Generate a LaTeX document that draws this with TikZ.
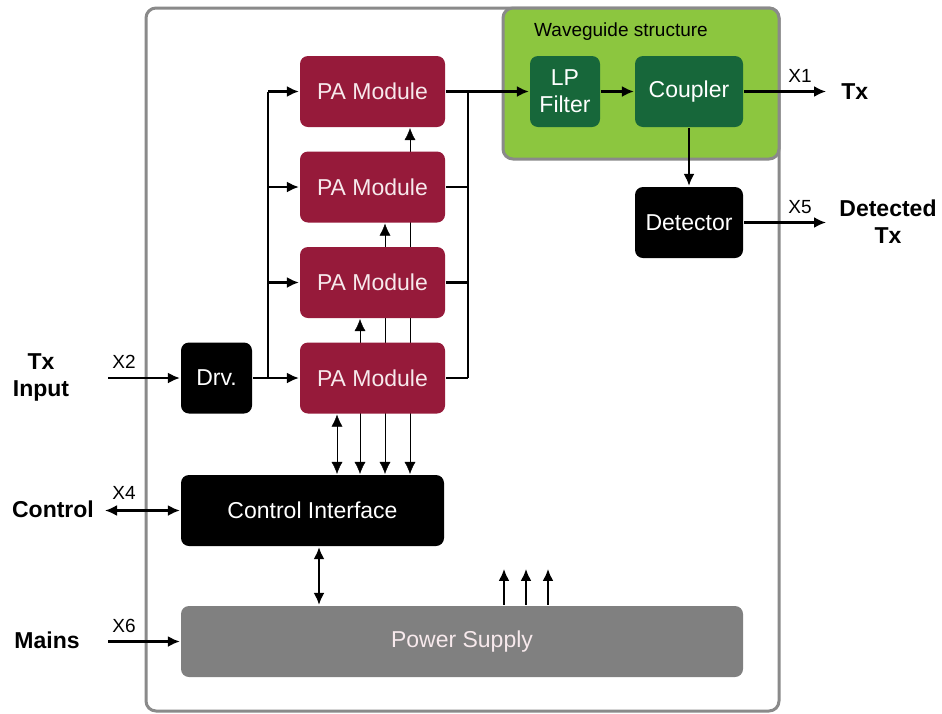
\documentclass[tikz,border=0pt]{standalone}
\usepackage{fontspec}
\setmainfont{Liberation Sans}
\usetikzlibrary{arrows.meta, backgrounds}

\definecolor{pared}{HTML}{961A3A}
\definecolor{patext}{HTML}{F7E9EC}
\definecolor{wglight}{HTML}{8CC63F}
\definecolor{wgdark}{HTML}{17673A}
\definecolor{framegray}{HTML}{8A8A8A}
\definecolor{psgray}{HTML}{808080}

\begin{document}
\begin{tikzpicture}[x=1pt, y=-1pt, line width=2.2pt,
      >={Latex[length=12pt,width=11pt]},
      box/.style={rectangle, rounded corners=8pt, minimum height=71pt, inner sep=0pt, font=\fontsize{23}{27}\selectfont},
      pamod/.style={box, fill=pared, text=patext, minimum width=145pt},
      wgblock/.style={box, fill=wgdark, text=white, align=center},
      blackbox/.style={box, fill=black, text=white},
      xlabel/.style={font=\fontsize{19}{23}\selectfont},
      iolabel/.style={font=\fontsize{23}{27}\selectfont\bfseries, align=center}]

      % Frame and waveguide area
      \draw[framegray, line width=3pt, rounded corners=10pt] (146,8) rectangle (779,711);
      \draw[framegray, fill=wglight, line width=3pt, rounded corners=10pt] (503,8) rectangle (779,159);
      \node[xlabel] (wglabel) at (621,32) {Waveguide structure};

      % Blocks
      \node[wgblock, minimum width=70pt] (lp) at (565,91.5) {LP\\Filter};
      \node[wgblock, minimum width=108pt] (coupler) at (689,91.5) {Coupler};
      \node[blackbox, minimum width=108pt] (det) at (689,222.5) {Detector};

      \node[pamod] (pa1) at (372.5,91.5) {PA Module};
      \node[pamod] (pa2) at (372.5,187) {PA Module};
      \node[pamod] (pa3) at (372.5,282.5) {PA Module};
      \node[pamod] (pa4) at (372.5,378) {PA Module};

      \node[blackbox, minimum width=71pt] (drv) at (216.5,378) {Drv.};
      \node[blackbox, minimum width=263pt] (ci) at (312.5,510.5) {Control Interface};
      \node[box, fill=psgray, text=patext, minimum width=562pt] (ps) at (462,641.5) {Power Supply};

      % External labels
      \node[iolabel] (txin) at (41,377) {Tx\\Input};
      \node[iolabel] (ctrl) at (53,509) {Control};
      \node[iolabel] (mains) at (47,640) {Mains};
      \node[iolabel, anchor=west] (txout) at (837,92) {Tx};
      \node[iolabel] (dettx) at (888,222) {Detected\\Tx};

      \node[xlabel] (x2) at (124,362) {X2};
      \node[xlabel] (x4) at (124,493) {X4};
      \node[xlabel] (x6) at (124,626) {X6};
      \node[xlabel] (x1) at (800,76) {X1};
      \node[xlabel] (x5) at (800,207) {X5};

      \coordinate (inend) at (108,378);
      \coordinate (ctrlend) at (105,510.5);
      \coordinate (mainsend) at (108,641.5);
      \coordinate (txend) at (826,91.5);
      \coordinate (detend) at (826,222.5);
      \coordinate (lb) at (268,0);
      \coordinate (rb) at (468,0);

      % Arrows
      \draw[->] (inend) -- (drv.west);
      \draw[->] (drv.east) -- (pa4.west);
      \draw (pa1.west -| lb) -- (pa4.west -| lb);
      \foreach \p in {pa1,pa2,pa3} {
        \draw[->] (\p.west -| lb) -- (\p.west);
      }

      \foreach \p in {pa2,pa3,pa4} {
        \draw (\p.east) -- (\p.east -| rb);
      }
      \draw (pa1.east -| rb) -- (pa4.east -| rb);
      \draw[->] (pa1.east) -- (lp.west);
      \draw[->] (lp.east) -- (coupler.west);
      \draw[->] (coupler.east) -- (txend);
      \draw[->] (coupler.south) -- (det.north);
      \draw[->] (det.east) -- (detend);

      \draw[<->] (ctrlend) -- (ci.west);
      \draw[->] (mainsend) -- (ps.west);
      \draw[<->] (ci.south -| 319,0) -- (ps.north -| 319,0);
      \foreach \x in {504,526,548} {
        \draw[->] (ps.north -| \x,0) -- ++(0,-36);
      }

      % Control lines to the PA modules, behind the modules
      \begin{pgfonlayer}{background}
        \fill[white] (0,0) rectangle (942,713);
        \draw[<->] (ci.north -| 337,0) -- (pa4.south -| 337,0);
        \draw[<->] (ci.north -| 360,0) -- (pa3.south -| 360,0);
        \draw[<->] (ci.north -| 385,0) -- (pa2.south -| 385,0);
        \draw[<->] (ci.north -| 410,0) -- (pa1.south -| 410,0);
      \end{pgfonlayer}

      \useasboundingbox (0,0) rectangle (942,713);
    \end{tikzpicture}
\end{document}
